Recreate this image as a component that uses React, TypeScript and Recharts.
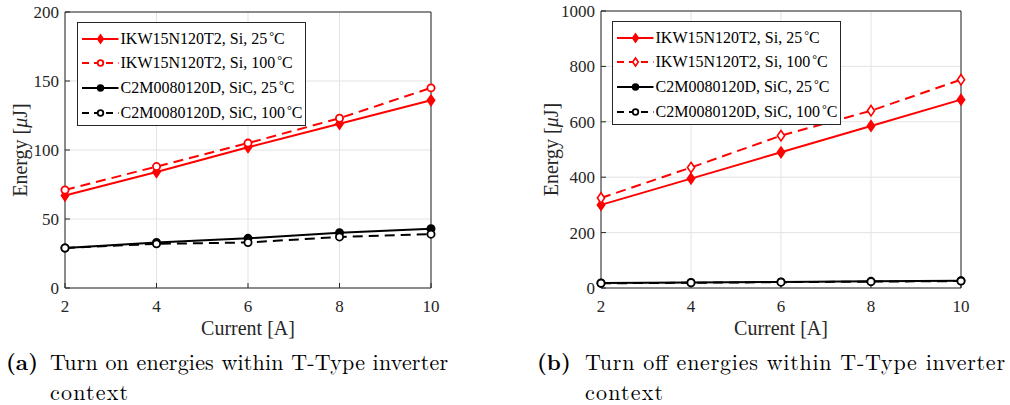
import React from 'react';
import { LineChart, Line, XAxis, YAxis, CartesianGrid, Legend } from 'recharts';

// ---------- data ----------
const currents = [2, 4, 6, 8, 10];

const turnOnSi25 = [67, 84, 102, 119, 136];
const turnOnSi100 = [71, 88, 105, 123, 145];
const turnOnSiC25 = [29, 33, 36, 40, 43];
const turnOnSiC100 = [29, 32, 33, 37, 39];

const turnOffSi25 = [300, 395, 490, 585, 680];
const turnOffSi100 = [325, 435, 550, 640, 752];
const turnOffSiC25 = [18, 20, 22, 24, 26];
const turnOffSiC100 = [17, 19, 21, 23, 25];

const xTicks = [2, 4, 6, 8, 10];
const onYTicks = [0, 50, 100, 150, 200];
const offYTicks = [0, 200, 400, 600, 800, 1000];

const seriesLabels = [
  ['IKW15N120T2, Si, 25', 'C'],
  ['IKW15N120T2, Si, 100', 'C'],
  ['C2M0080120D, SiC, 25', 'C'],
  ['C2M0080120D, SiC, 100', 'C'],
];

const xLabel = 'Current [A]';
const captionA = ['(a)', 'Turn on energies within T-Type inverter', 'context'];
const captionB = ['(b)', 'Turn off energies within T-Type inverter', 'context'];

const onData = currents.map((c, i) => ({
  current: c,
  si25: turnOnSi25[i],
  si100: turnOnSi100[i],
  sic25: turnOnSiC25[i],
  sic100: turnOnSiC100[i],
}));
const offData = currents.map((c, i) => ({
  current: c,
  si25: turnOffSi25[i],
  si100: turnOffSi100[i],
  sic25: turnOffSiC25[i],
  sic100: turnOffSiC100[i],
}));

// ---------- styles ----------
const FONT = 'Liberation Serif';
const CAPFONT = 'Latin Modern Roman';
const AX = '#262626';
const RED = '#ff0000';
const BLK = '#000000';
const DASH = '10 6';

type SStyle = { key: string; color: string; dash?: string; shape: 'diamond' | 'circle'; filled: boolean };

const onStyles: SStyle[] = [
  { key: 'si25', color: RED, shape: 'diamond', filled: true },
  { key: 'si100', color: RED, dash: DASH, shape: 'circle', filled: false },
  { key: 'sic25', color: BLK, shape: 'circle', filled: true },
  { key: 'sic100', color: BLK, dash: DASH, shape: 'circle', filled: false },
];
const offStyles: SStyle[] = [
  { key: 'si25', color: RED, shape: 'diamond', filled: true },
  { key: 'si100', color: RED, dash: DASH, shape: 'diamond', filled: false },
  { key: 'sic25', color: BLK, shape: 'circle', filled: true },
  { key: 'sic100', color: BLK, dash: DASH, shape: 'circle', filled: false },
];

const Marker = ({ cx, cy, s, scale = 1 }: { cx: number; cy: number; s: SStyle; scale?: number }) => {
  if (s.shape === 'diamond') {
    const w = 3.6 * scale;
    const h = 5.2 * scale;
    return (
      <path
        d={`M${cx},${cy - h} L${cx + w},${cy} L${cx},${cy + h} L${cx - w},${cy} Z`}
        fill={s.filled ? s.color : '#fff'}
        stroke={s.color}
        strokeWidth={1.6}
      />
    );
  }
  return (
    <circle cx={cx} cy={cy} r={3.6 * scale} fill={s.filled ? s.color : '#fff'} stroke={s.color} strokeWidth={1.8} />
  );
};

const makeDot = (s: SStyle) => (props: any) => {
  const { cx, cy, index } = props;
  if (cx == null || cy == null) return <g key={index} />;
  return (
    <g key={index}>
      <Marker cx={cx} cy={cy} s={s} />
    </g>
  );
};

const LegendBox = ({ styles, w, h }: { styles: SStyle[]; w: number; h: number }) => (
  <div
    style={{
      position: 'relative',
      width: w,
      height: h,
      boxSizing: 'border-box',
      border: `1px solid ${AX}`,
      background: '#fff',
      fontFamily: FONT,
      fontSize: 16,
      color: '#000',
    }}
  >
    {styles.map((s, i) => {
      const cyRow = 15.5 + 24.8 * i;
      return (
        <div key={s.key} style={{ position: 'absolute', left: 0, top: cyRow - 9, height: 18, width: w }}>
          <svg width={44} height={18} style={{ position: 'absolute', left: 0, top: 0 }}>
            <line x1={4} x2={40.5} y1={9} y2={9} stroke={s.color} strokeWidth={2} strokeDasharray={s.dash ? '7 5' : undefined} />
            <Marker cx={22.5} cy={9} s={s} scale={0.78} />
          </svg>
          <span style={{ position: 'absolute', left: 42.5, top: 0, lineHeight: '18px', whiteSpace: 'nowrap' }}>
            {seriesLabels[i][0]}
            <span style={{ fontSize: 12, position: 'relative', top: -4, marginLeft: 2 }}>°</span>
            {seriesLabels[i][1]}
          </span>
        </div>
      );
    })}
  </div>
);

const YLabel = (props: any) => {
  const vb = props.viewBox || {};
  const cy = vb.y + vb.height / 2;
  const cx = props.cxPos;
  return (
    <text
      x={cx}
      y={cy}
      transform={`rotate(-90 ${cx} ${cy})`}
      textAnchor="middle"
      dominantBaseline="central"
      fontFamily={FONT}
      fontSize={20}
      fill={AX}
    >
      Energy [<tspan fontStyle="italic">μ</tspan>J]
    </text>
  );
};

const XLabel = (props: any) => {
  const vb = props.viewBox || {};
  const cx = vb.x + vb.width / 2;
  return (
    <text x={cx} y={props.cyPos} textAnchor="middle" dominantBaseline="central" fontFamily={FONT} fontSize={20} fill={AX}>
      {xLabel}
    </text>
  );
};

type ChartProps = {
  data: any[];
  styles: SStyle[];
  yTicks: number[];
  yMax: number;
  width: number;
  marginTop: number;
  marginRight: number;
  yWidth: number;
  yLabelX: number;
  legendLeft: number;
  legendTop: number;
};

const tickStyle = { fill: AX, fontSize: 17, fontFamily: FONT };

const EnergyChart = (p: ChartProps) => (
  <LineChart width={p.width} height={340} data={p.data} margin={{ top: p.marginTop, right: p.marginRight, left: 0, bottom: 0 }}>
    <CartesianGrid stroke="#e3e3e3" strokeWidth={1} />
    <XAxis
      dataKey="current"
      type="number"
      domain={[2, 10]}
      ticks={xTicks}
      height={52}
      tickSize={-5}
      tickMargin={17}
      stroke={AX}
      tick={tickStyle}
      label={<XLabel cyPos={328} />}
    />
    <XAxis xAxisId="top" orientation="top" dataKey="current" type="number" domain={[2, 10]} ticks={xTicks} height={1} tickSize={-5} tick={false} stroke={AX} />
    <YAxis
      type="number"
      domain={[0, p.yMax]}
      ticks={p.yTicks}
      width={p.yWidth}
      tickSize={-5}
      tickMargin={11}
      stroke={AX}
      tick={tickStyle}
      interval={0}
      label={<YLabel cxPos={p.yLabelX} />}
    />
    <YAxis yAxisId="right" orientation="right" type="number" domain={[0, p.yMax]} ticks={p.yTicks} width={1} tickSize={-5} tick={false} stroke={AX} />
    {p.styles.map((s) => (
      <Line
        key={s.key}
        dataKey={s.key}
        type="linear"
        stroke={s.color}
        strokeWidth={2}
        strokeDasharray={s.dash}
        dot={makeDot(s)}
        activeDot={false}
        isAnimationActive={false}
      />
    ))}
    <Legend
      layout="vertical"
      align="center"
      verticalAlign="middle"
      wrapperStyle={{ left: p.legendLeft, top: p.legendTop, width: 230, height: 105 }}
      content={() => <LegendBox styles={p.styles} w={229} h={104} />}
    />
  </LineChart>
);

const Caption = ({ c, x0, x1, w1, wCtx }: { c: string[]; x0: number; x1: number; w1: number; wCtx: number }) => (
  <g>
    <text x={x0} y={370} fontSize={22} fontWeight="bold" fontFamily={CAPFONT} fill="#000">
      {c[0]}
    </text>
    <text x={x1} y={370} fontSize={22} fontFamily={CAPFONT} fill="#000" textLength={w1} lengthAdjust="spacing">
      {c[1]}
    </text>
    <text x={x1} y={400} fontSize={22} fontFamily={CAPFONT} fill="#000" textLength={wCtx} lengthAdjust="spacing">
      {c[2]}
    </text>
  </g>
);

export default function App() {
  return (
    <div style={{ position: 'absolute', left: 0, top: 0, width: 1010, height: 405, background: '#fff', overflow: 'hidden' }}>
      <div style={{ position: 'absolute', left: 0, top: 0 }}>
        <EnergyChart
          data={onData}
          styles={onStyles}
          yTicks={onYTicks}
          yMax={200}
          width={450}
          marginTop={11}
          marginRight={18}
          yWidth={65}
          yLabelX={20}
          legendLeft={77}
          legendTop={22}
        />
      </div>
      <div style={{ position: 'absolute', left: 540, top: 0 }}>
        <EnergyChart
          data={offData}
          styles={offStyles}
          yTicks={offYTicks}
          yMax={1000}
          width={470}
          marginTop={10}
          marginRight={48}
          yWidth={61}
          yLabelX={11}
          legendLeft={72}
          legendTop={21}
        />
      </div>
      <svg width={1010} height={405} style={{ position: 'absolute', left: 0, top: 0, pointerEvents: 'none' }}>
        <Caption c={captionA} x0={6} x1={50} w1={398} wCtx={78} />
        <Caption c={captionB} x0={537} x1={585} w1={420} wCtx={78} />
      </svg>
    </div>
  );
}
